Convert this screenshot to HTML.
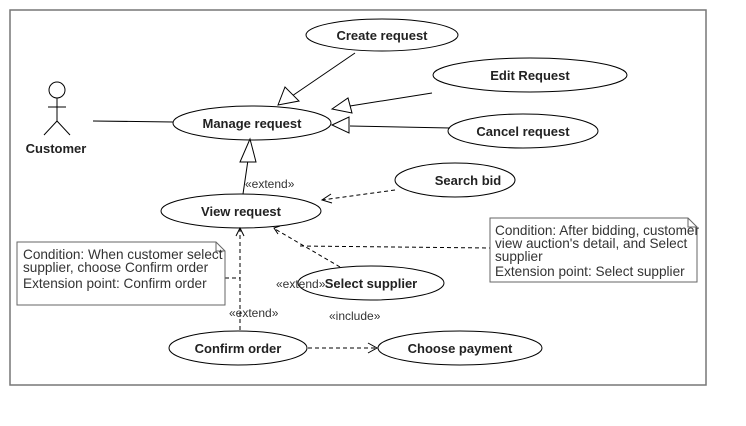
<!DOCTYPE html>
<html><head><style>body{margin:0;background:#fff}svg{display:block}</style></head><body>
<svg width="746" height="426" viewBox="0 0 746 426" xmlns="http://www.w3.org/2000/svg" font-family="Liberation Sans, sans-serif">
<rect x="10" y="10" width="696" height="375" fill="#fff" stroke="#777" stroke-width="1.5"/>
<g fill="#fff" stroke="#000" stroke-width="1">
<ellipse cx="382" cy="35" rx="76" ry="16"/>
<ellipse cx="530" cy="75" rx="97" ry="17"/>
<ellipse cx="252" cy="123" rx="79" ry="17"/>
<ellipse cx="523" cy="131" rx="75" ry="17"/>
<ellipse cx="455" cy="180" rx="60" ry="17"/>
<ellipse cx="241" cy="211" rx="80" ry="17"/>
<ellipse cx="371" cy="283" rx="73" ry="17"/>
<ellipse cx="238" cy="348" rx="69" ry="17"/>
<ellipse cx="460" cy="348" rx="82" ry="17"/>
</g>
<g stroke="#000" fill="none">
<circle cx="57" cy="90" r="8" fill="#fff"/>
<line x1="57" y1="98" x2="57" y2="121"/>
<line x1="48" y1="107" x2="66" y2="107"/>
<line x1="57" y1="121" x2="44" y2="135"/>
<line x1="57" y1="121" x2="70" y2="135"/>
<line x1="93" y1="121" x2="173" y2="122"/>
<line x1="355" y1="53" x2="292" y2="96"/>
<polygon points="278,105 285,87 299,101" fill="#fff"/>
<line x1="432" y1="93" x2="350" y2="106"/>
<polygon points="332,109 348,98 352,113" fill="#fff"/>
<line x1="450" y1="128" x2="350" y2="126"/>
<polygon points="332,125 349,117 349,133" fill="#fff"/>
<line x1="243" y1="194" x2="248" y2="160"/>
<polygon points="250,139 240,162 256,162" fill="#fff"/>
</g>
<g stroke="#000" fill="none" stroke-dasharray="4,3">
<line x1="395" y1="190" x2="322" y2="200"/>
<line x1="300" y1="246" x2="490" y2="248"/>
<line x1="340" y1="267" x2="275" y2="229"/>
<line x1="240" y1="330" x2="240" y2="229"/>
<line x1="225" y1="278" x2="240" y2="278"/>
<line x1="308" y1="348" x2="377" y2="348"/>
</g>
<g stroke="#000" fill="none">
<polyline points="331,194 322,200 332,203"/>
<polyline points="280,226 274,228 278,234"/>
<polyline points="236,236 240,228 244,236"/>
<polyline points="368,343 377,348 368,353"/>
</g>
<polygon points="490,218 688,218 697,227 697,282 490,282" fill="#fff" stroke="#666"/>
<polyline points="688,218 688,227 697,227" fill="none" stroke="#666"/>
<polygon points="17,242 216,242 225,251 225,305 17,305" fill="#fff" stroke="#666"/>
<polyline points="216,242 216,251 225,251" fill="none" stroke="#666"/>
<g font-size="13" font-weight="bold" fill="#222" text-anchor="middle">
<text x="382" y="40">Create request</text>
<text x="530" y="80">Edit Request</text>
<text x="252" y="128">Manage request</text>
<text x="523" y="136">Cancel request</text>
<text x="468" y="185">Search bid</text>
<text x="241" y="216">View request</text>
<text x="371" y="288">Select supplier</text>
<text x="238" y="353">Confirm order</text>
<text x="460" y="353">Choose payment</text>
<text x="56" y="153">Customer</text>
</g>
<g font-size="12" fill="#333">
<text x="245" y="188">«extend»</text>
<text x="276" y="288">«extend»</text>
<text x="229" y="317">«extend»</text>
<text x="329" y="320">«include»</text>
</g>
<g font-size="13.6" fill="#333">
<text x="23" y="259">Condition: When customer select</text>
<text x="23" y="272">supplier, choose Confirm order</text>
<text x="23" y="288">Extension point: Confirm order</text>
<text x="495" y="235">Condition: After bidding, customer</text>
<text x="495" y="248">view auction's detail, and Select</text>
<text x="495" y="261">supplier</text>
<text x="495" y="276">Extension point: Select supplier</text>
</g>
</svg>
</body></html>
